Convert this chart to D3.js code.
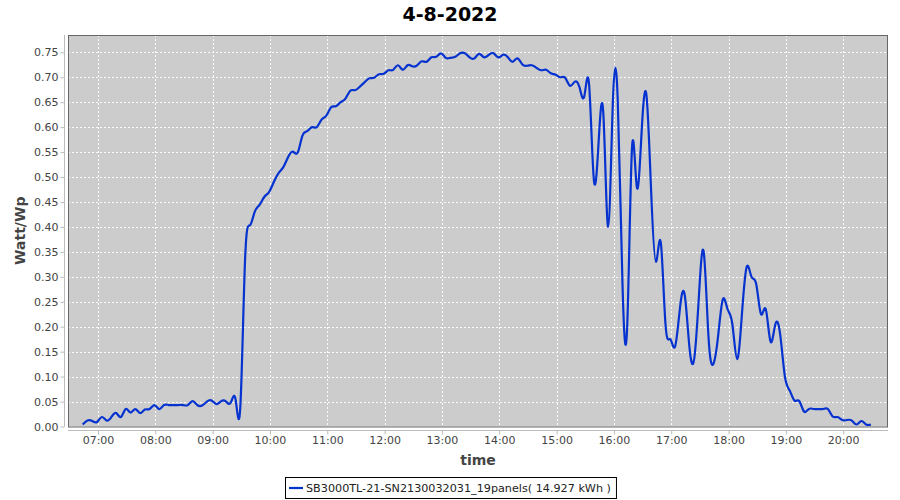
<!DOCTYPE html>
<html>
<head>
<meta charset="utf-8">
<script src="https://cdn.jsdelivr.net/npm/d3@7"></script>
<style>
  html, body { margin: 0; padding: 0; background: #fff; }
  svg { display: block; font-family: "DejaVu Sans", sans-serif; }
</style>
</head>
<body>
<svg id="chart" width="900" height="500"></svg>
<script>
// ---- data ----
const chartTitle = "4-8-2022";
const xLabel = "time";
const yLabel = "Watt/Wp";
const seriesName = "SB3000TL-21-SN2130032031_19panels( 14.927 kWh )";
const dateParts = [2022, 7, 4];
const startTime = "06:44";
const stepMinutes = 5;
const values = [
  0.004, 0.012, 0.011, 0.009, 0.019, 0.012, 0.019, 0.027, 0.019, 0.035,
  0.028, 0.035, 0.027, 0.034, 0.035, 0.043, 0.035, 0.043, 0.043, 0.043,
  0.043, 0.043, 0.043, 0.051, 0.043, 0.042, 0.050, 0.052, 0.045, 0.051,
  0.050, 0.048, 0.054, 0.040, 0.337, 0.403, 0.430, 0.444, 0.460, 0.470,
  0.490, 0.508, 0.520, 0.540, 0.551, 0.549, 0.583, 0.592, 0.600, 0.600,
  0.615, 0.623, 0.640, 0.642, 0.650, 0.657, 0.673, 0.674, 0.681, 0.690,
  0.698, 0.699, 0.706, 0.707, 0.714, 0.715, 0.724, 0.715, 0.724, 0.722,
  0.724, 0.732, 0.731, 0.740, 0.741, 0.748, 0.739, 0.739, 0.741, 0.748,
  0.748, 0.740, 0.738, 0.747, 0.740, 0.745, 0.748, 0.740, 0.745, 0.740,
  0.731, 0.738, 0.726, 0.723, 0.724, 0.719, 0.714, 0.715, 0.708, 0.705,
  0.700, 0.699, 0.683, 0.691, 0.680, 0.662, 0.686, 0.495, 0.570, 0.625,
  0.400, 0.655, 0.655, 0.285, 0.205, 0.560, 0.480, 0.590, 0.665, 0.470,
  0.330, 0.370, 0.205, 0.175, 0.160, 0.235, 0.265, 0.160, 0.135, 0.262,
  0.350, 0.180, 0.125, 0.180, 0.255, 0.235, 0.205, 0.135, 0.225, 0.320,
  0.300, 0.285, 0.225, 0.235, 0.170, 0.205, 0.185, 0.100, 0.072, 0.052,
  0.051, 0.030, 0.035, 0.035, 0.035, 0.035, 0.035, 0.020, 0.019, 0.013,
  0.013, 0.012, 0.004, 0.011, 0.004, 0.004
];
const xDomainTimes = ["06:28.6", "20:46.9"];
const yDomain = [0, 0.7847];
const yTickValues = [0, 0.05, 0.10, 0.15, 0.20, 0.25, 0.30, 0.35, 0.40, 0.45, 0.50, 0.55, 0.60, 0.65, 0.70, 0.75];

// ---- helpers ----
function toDate(hm) {
  const [h, m] = hm.split(":").map(Number);
  const d = new Date(dateParts[0], dateParts[1], dateParts[2], h, 0, 0);
  return new Date(d.getTime() + m * 60000);
}
const t0 = toDate(startTime);
const data = values.map((v, i) => ({ t: new Date(t0.getTime() + i * stepMinutes * 60000), v }));

// ---- layout ----
const svg = d3.select("#chart");
const plot = { left: 68, top: 35, right: 888, bottom: 426.5 };

const x = d3.scaleTime()
  .domain(xDomainTimes.map(toDate))
  .range([plot.left, plot.right]);
const y = d3.scaleLinear()
  .domain(yDomain)
  .range([plot.bottom, plot.top]);

// title
svg.append("text")
  .attr("x", 450).attr("y", 21)
  .attr("text-anchor", "middle")
  .attr("font-size", 19).attr("font-weight", "bold")
  .attr("fill", "#000")
  .text(chartTitle);

// plot background
svg.append("rect")
  .attr("x", plot.left).attr("y", plot.top)
  .attr("width", plot.right - plot.left).attr("height", plot.bottom - plot.top)
  .attr("fill", "#cccccc");

const xTicks = x.ticks(d3.timeHour.every(1));

// grid
const grid = svg.append("g").attr("stroke", "#ffffff").attr("stroke-width", 1)
  .attr("stroke-dasharray", "2,2").attr("shape-rendering", "crispEdges").attr("opacity", 0.9);
grid.selectAll("line.v").data(xTicks).join("line")
  .attr("x1", d => Math.round(x(d)) + 0.5).attr("x2", d => Math.round(x(d)) + 0.5)
  .attr("y1", plot.top).attr("y2", plot.bottom);
grid.selectAll("line.h").data(yTickValues).join("line")
  .attr("y1", d => Math.round(y(d)) + 0.5).attr("y2", d => Math.round(y(d)) + 0.5)
  .attr("x1", plot.left).attr("x2", plot.right);

// series line
const line = d3.line()
  .x(d => x(d.t))
  .y(d => y(d.v))
  .curve(d3.curveNatural);

const clipId = "plotclip";
svg.append("clipPath").attr("id", clipId).append("rect")
  .attr("x", plot.left).attr("y", plot.top)
  .attr("width", plot.right - plot.left).attr("height", plot.bottom - plot.top);

svg.append("path")
  .datum(data)
  .attr("clip-path", `url(#${clipId})`)
  .attr("fill", "none")
  .attr("stroke", "#0633d0")
  .attr("stroke-width", 2.2)
  .attr("stroke-linejoin", "round")
  .attr("d", line);

// plot frame
svg.append("rect")
  .attr("x", plot.left + 0.5).attr("y", plot.top + 0.5)
  .attr("width", plot.right - plot.left - 1).attr("height", plot.bottom - plot.top)
  .attr("fill", "none").attr("stroke", "#666").attr("stroke-width", 1);

// y axis (offset)
const yAxis = d3.axisLeft(y)
  .tickValues(yTickValues)
  .tickFormat(d3.format(".2f"))
  .tickSize(4).tickSizeOuter(0).tickPadding(2);
const gy = svg.append("g").attr("transform", "translate(64.5,0)").call(yAxis);
gy.select(".domain").attr("stroke", "#bbb").attr("d", `M0,${plot.top}V${plot.bottom}`);
gy.selectAll(".tick line").attr("stroke", "#bbb");
gy.selectAll(".tick text").attr("font-size", 11).attr("fill", "#444")
  .attr("font-family", "DejaVu Sans, sans-serif");

// x axis (offset)
const xAxis = d3.axisBottom(x)
  .ticks(d3.timeHour.every(1))
  .tickFormat(d3.timeFormat("%H:%M"))
  .tickSize(4).tickSizeOuter(0).tickPadding(2);
const gx = svg.append("g").attr("transform", "translate(0,430.5)").call(xAxis);
gx.select(".domain").attr("stroke", "#bbb").attr("d", `M${plot.left},0H${plot.right}`);
gx.selectAll(".tick line").attr("stroke", "#bbb");
gx.selectAll(".tick text").attr("font-size", 11).attr("fill", "#444")
  .attr("font-family", "DejaVu Sans, sans-serif");

// axis labels
svg.append("text")
  .attr("x", 478).attr("y", 465)
  .attr("text-anchor", "middle")
  .attr("font-size", 14).attr("font-weight", "bold").attr("fill", "#444")
  .text(xLabel);
svg.append("text")
  .attr("transform", `translate(25,${(plot.top + plot.bottom) / 2}) rotate(-90)`)
  .attr("text-anchor", "middle")
  .attr("font-size", 14).attr("font-weight", "bold").attr("fill", "#444")
  .text(yLabel);

// legend
const lg = svg.append("g");
const legendText = lg.append("text")
  .attr("x", 306).attr("y", 492)
  .attr("font-size", 11.2).attr("fill", "#222")
  .text(seriesName);
const tw = legendText.node().getComputedTextLength();
lg.insert("rect", "text")
  .attr("x", 285.5).attr("y", 477.5)
  .attr("width", tw + 306 - 285 + 5).attr("height", 21)
  .attr("fill", "#fff").attr("stroke", "#000").attr("stroke-width", 1);
lg.append("line")
  .attr("x1", 289).attr("x2", 303).attr("y1", 488).attr("y2", 488)
  .attr("stroke", "#0633d0").attr("stroke-width", 2.2);
</script>
</body>
</html>
